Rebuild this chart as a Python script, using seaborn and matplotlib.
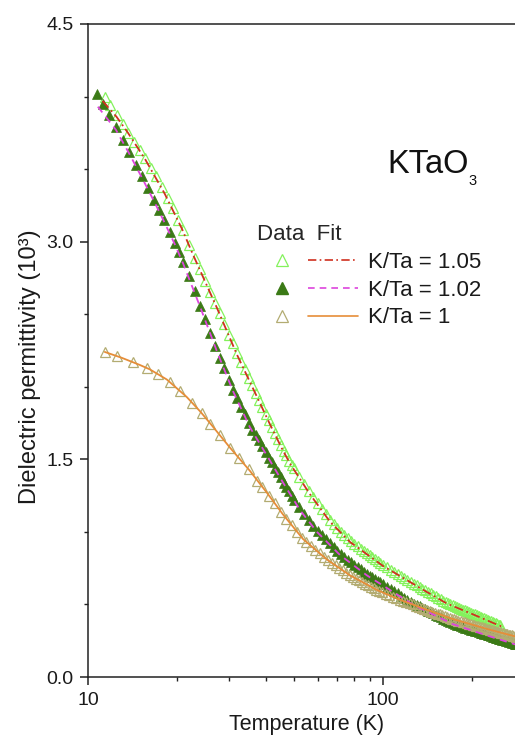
import matplotlib
matplotlib.use("Agg")
import matplotlib.pyplot as plt
import matplotlib.ticker as ticker
import seaborn as sns
from matplotlib.lines import Line2D
from matplotlib.legend_handler import HandlerTuple

# K/Ta = 1.05 (open light-green triangles)
t_105 = [11.4, 11.9, 12.5, 13.1, 13.7, 14.3, 15.0, 15.6, 16.3, 17.0, 17.8, 18.6, 19.4, 20.2, 21.0,
         22, 23, 24, 25, 26, 27, 28, 29, 30, 31, 32, 33, 34, 35, 36, 37, 38, 39, 40, 41,
         42, 43, 44, 45, 46, 47, 48, 49, 50,
         52, 54, 56, 58, 60, 62, 64, 66, 68, 70, 72, 74, 76, 78, 80, 82, 84, 86, 88, 90,
         92, 94, 96, 98, 100,
         103, 106, 109, 112, 115, 118, 121, 124, 127, 130, 133, 136, 139, 142, 145, 148, 151,
         154, 157, 160, 163, 166, 169, 172, 175, 178, 181, 184, 187, 190, 193, 196, 199, 202,
         205, 208, 211, 214, 217, 220, 223, 226, 229, 232, 235, 238, 241, 244, 247, 250]
eps_105 = [4.00, 3.94, 3.87, 3.81, 3.75, 3.69, 3.63, 3.58, 3.51, 3.45, 3.38, 3.30, 3.23, 3.15, 3.08,
           2.98, 2.89, 2.81, 2.73, 2.65, 2.58, 2.51, 2.43, 2.36, 2.30, 2.23, 2.17, 2.12, 2.06, 2.01,
           1.96, 1.91, 1.86, 1.81, 1.77, 1.72, 1.68, 1.64, 1.60, 1.56, 1.53, 1.49, 1.46, 1.44,
           1.38, 1.33, 1.28, 1.24, 1.20, 1.16, 1.12, 1.08, 1.055, 1.03, 1.00, 0.98, 0.955, 0.934,
           0.917, 0.901, 0.885, 0.87, 0.854, 0.84, 0.825, 0.811, 0.797, 0.783, 0.77,
           0.755, 0.739, 0.725, 0.71, 0.697, 0.683, 0.67, 0.657, 0.644, 0.632, 0.62, 0.608, 0.597,
           0.586, 0.576, 0.565, 0.555, 0.545, 0.535, 0.526, 0.516, 0.508, 0.501, 0.495, 0.489,
           0.482, 0.476, 0.47, 0.464, 0.459, 0.453, 0.447, 0.442, 0.436, 0.431, 0.425, 0.42,
           0.415, 0.409, 0.404, 0.399, 0.394, 0.389, 0.384, 0.379, 0.374, 0.37, 0.365, 0.36, 0.356]

# K/Ta = 1.02 (filled dark-green triangles)
t_102 = [10.73, 11.24, 11.8, 12.44, 13.1, 13.77, 14.5, 15.24, 16.0, 16.73, 17.4, 18.09, 18.9,
         19.71, 20.4, 21.0,
         22, 23, 24, 25, 26, 27, 28, 29, 30, 31, 32, 33, 34, 35, 36, 37, 38, 39, 40, 41,
         42, 43, 44, 45, 46, 47, 48, 49, 50,
         52, 54, 56, 58, 60, 62, 64, 66, 68, 70, 72, 74, 76, 78, 80, 82, 84, 86, 88, 90,
         92, 94, 96, 98, 100,
         103, 106, 109, 112, 115, 118, 121, 124, 127, 130, 133, 136, 139, 142, 145, 148, 151,
         154, 157, 160, 163, 166, 169, 172, 175, 178, 181, 184, 187, 190, 193, 196, 199, 202,
         205, 208, 211, 214, 217, 220, 223, 226, 229, 232, 235, 238, 241, 244, 247, 250, 253,
         256, 259, 262, 265, 268, 271, 274, 277, 280, 283]
eps_102 = [4.02, 3.95, 3.87, 3.79, 3.70, 3.62, 3.53, 3.45, 3.37, 3.29, 3.22, 3.15, 3.07, 2.99,
           2.93, 2.86,
           2.76, 2.66, 2.56, 2.47, 2.37, 2.28, 2.20, 2.13, 2.05, 1.98, 1.92, 1.86, 1.81, 1.75,
           1.705, 1.665, 1.63, 1.59, 1.55, 1.51, 1.48, 1.44, 1.41, 1.38, 1.34, 1.31, 1.28, 1.25,
           1.22,
           1.17, 1.12, 1.08, 1.04, 1.005, 0.977, 0.948, 0.921, 0.895, 0.869, 0.845, 0.827, 0.809,
           0.792, 0.775, 0.759, 0.743, 0.727, 0.712, 0.699, 0.687, 0.675, 0.663, 0.652, 0.64,
           0.623, 0.607, 0.592, 0.576, 0.561, 0.547, 0.533, 0.519, 0.506, 0.496, 0.486, 0.476,
           0.466, 0.456, 0.447, 0.438, 0.429, 0.420, 0.411, 0.403, 0.394, 0.386, 0.378, 0.37,
           0.365, 0.36, 0.355, 0.35, 0.346, 0.341, 0.336, 0.332, 0.327, 0.323, 0.318, 0.314,
           0.31, 0.306, 0.302, 0.298, 0.294, 0.29, 0.286, 0.283, 0.279, 0.275, 0.272, 0.268,
           0.265, 0.262, 0.258, 0.255, 0.252, 0.249, 0.245, 0.242, 0.239, 0.236, 0.233, 0.23,
           0.227]

# K/Ta = 1 (open khaki triangles)
t_100 = [11.4, 12.5, 14.2, 15.9, 17.3, 19.0, 20.5, 22.5, 24.3, 26.0, 28.0, 30.3, 32.5, 35.0, 37.5,
         39, 41, 43, 45, 47, 49, 51, 53, 55, 57, 59, 61, 63, 65, 67, 69, 71, 73, 75, 77, 79, 81,
         83, 85, 87, 89, 91, 93, 95, 97, 99,
         102, 105, 108, 111, 114, 117, 120, 123, 126, 129, 132, 135, 138, 141, 144, 147, 150,
         153, 156, 159, 162, 165, 168, 171, 174, 177, 180, 183, 186, 189, 192, 195, 198, 201,
         204, 207, 210, 213, 216, 219, 222, 225, 228, 231, 234, 237, 240, 243, 246, 249, 252,
         255, 258, 261, 264, 267, 270, 273, 276, 279, 282]
eps_100 = [2.24, 2.21, 2.17, 2.127, 2.085, 2.03, 1.97, 1.89, 1.817, 1.746, 1.665, 1.58, 1.508, 1.43,
           1.354,
           1.31, 1.25, 1.20, 1.14, 1.09, 1.05, 1.00, 0.96, 0.931, 0.904, 0.877, 0.852, 0.828, 0.805,
           0.787, 0.769, 0.752, 0.735, 0.718, 0.702, 0.69, 0.678, 0.666, 0.655, 0.644, 0.633,
           0.622, 0.612, 0.602, 0.593, 0.586,
           0.575, 0.564, 0.553, 0.543, 0.533, 0.524, 0.515, 0.507, 0.50, 0.492, 0.485, 0.477,
           0.47, 0.463, 0.456, 0.45, 0.443, 0.437, 0.431, 0.425, 0.419, 0.413, 0.407, 0.402,
           0.397, 0.393, 0.388, 0.384, 0.38, 0.376, 0.372, 0.368, 0.364, 0.36, 0.356, 0.353,
           0.349, 0.345, 0.342, 0.338, 0.335, 0.331, 0.328, 0.325, 0.322, 0.319, 0.316, 0.313,
           0.31, 0.307, 0.305, 0.302, 0.299, 0.296, 0.294, 0.291, 0.288, 0.286, 0.283, 0.281,
           0.278]

# fit curves
fit_t_105 = [11.2, 12.5, 13.66, 15.6, 18.2, 20.8, 22.7, 27.4, 32.0, 37.4, 41.4, 45.4, 48.4, 56.5,
             66.1, 77.3, 100, 116.5, 141, 165, 200, 254]
fit_105 = [3.97, 3.86, 3.75, 3.57, 3.33, 3.09, 2.91, 2.54, 2.22, 1.93, 1.74, 1.575, 1.47, 1.26,
           1.07, 0.93, 0.765, 0.685, 0.585, 0.505, 0.435, 0.345]
fit_t_102 = [10.8, 12.44, 13.77, 15.24, 16.73, 18.09, 19.71, 21, 24, 27.4, 31, 35.4, 41.4, 45.8,
             52.3, 59.7, 71.5, 88.2, 100, 126, 172, 226, 280, 300]
fit_102 = [3.93, 3.77, 3.61, 3.44, 3.28, 3.14, 2.98, 2.85, 2.55, 2.24, 1.97, 1.72, 1.49, 1.34,
           1.15, 1.00, 0.84, 0.70, 0.63, 0.50, 0.365, 0.285, 0.225, 0.21]
fit_t_100 = [11.4, 13, 15, 16.2, 18.5, 21.6, 24, 25.9, 30.3, 35.4, 38.3, 40.4, 45.8, 53.6, 64.5,
             77.3, 95.3, 116.5, 144.6, 172, 226, 280, 300]
fit_100 = [2.24, 2.20, 2.15, 2.12, 2.05, 1.93, 1.83, 1.75, 1.58, 1.42, 1.33, 1.27, 1.12, 0.95, 0.81,
           0.70, 0.60, 0.525, 0.455, 0.40, 0.33, 0.28, 0.27]

labels = ["K/Ta = 1.05", "K/Ta = 1.02", "K/Ta = 1"]

c_light = "#84f25c"
c_dark = "#3b7a16"
c_khaki = "#b3ac72"
c_red = "#d0301f"
c_mag = "#dd44dd"
c_orange = "#e68d38"

sns.set_style("ticks")
plt.rcParams['font.family'] = ['Liberation Sans', 'DejaVu Sans']
plt.rcParams['axes.edgecolor'] = '#222222'
plt.rcParams['axes.linewidth'] = 1.1

fig = plt.figure(figsize=(5.15, 7.35), dpi=100)
ax = fig.add_axes([88/515, 58/735, 427/515, 653/735])

ms = 7.2
sns.lineplot(x=t_105, y=eps_105, ax=ax, sort=False, errorbar=None, linestyle='', marker='^',
             markersize=ms, markerfacecolor='none', markeredgecolor=c_light, markeredgewidth=0.9,
             color=c_light)
sns.lineplot(x=t_102, y=eps_102, ax=ax, sort=False, errorbar=None, linestyle='', marker='^',
             markersize=ms - 0.6, markerfacecolor=c_dark, markeredgecolor=c_dark,
             markeredgewidth=0.5, color=c_dark)
sns.lineplot(x=t_100, y=eps_100, ax=ax, sort=False, errorbar=None, linestyle='', marker='^',
             markersize=ms, markerfacecolor='none', markeredgecolor=c_khaki, markeredgewidth=0.9,
             color=c_khaki)

sns.lineplot(x=fit_t_105, y=fit_105, ax=ax, sort=False, errorbar=None, color=c_red,
             linestyle=(0, (5, 2, 1, 2)), linewidth=1.3)
sns.lineplot(x=fit_t_102, y=fit_102, ax=ax, sort=False, errorbar=None, color=c_mag,
             linestyle=(0, (4, 3)), linewidth=1.3)
sns.lineplot(x=fit_t_100, y=fit_100, ax=ax, sort=False, errorbar=None, color=c_orange,
             linestyle='-', linewidth=1.3)

ax.set_xscale('log')
ax.set_xlim(10, 280)
ax.set_ylim(0, 4.5)
ax.xaxis.set_major_locator(ticker.FixedLocator([10, 100]))
ax.xaxis.set_major_formatter(ticker.FixedFormatter(["10", "100"]))
ax.xaxis.set_minor_locator(ticker.LogLocator(base=10, subs=range(2, 10)))
ax.xaxis.set_minor_formatter(ticker.NullFormatter())
ax.yaxis.set_major_locator(ticker.FixedLocator([0, 1.5, 3.0, 4.5]))
ax.yaxis.set_major_formatter(ticker.FormatStrFormatter('%.1f'))
ax.yaxis.set_minor_locator(ticker.MultipleLocator(0.5))
ax.tick_params(which='major', direction='out', length=6, width=1.1, labelsize=14, pad=4.5,
               color='#222222', labelcolor='#1a1a1a')
ax.tick_params(which='minor', direction='out', length=3, width=1.0, color='#222222')
ax.spines['right'].set_visible(False)

ax.set_xlabel("Temperature (K)", fontsize=15.5, color='#1a1a1a')
ax.xaxis.set_label_coords(0.513, -0.056)
ax.set_ylabel("Dielectric permittivity (10³)", fontsize=17, color='#1a1a1a')
ax.yaxis.set_label_coords(-0.110, 0.475)

t = ax.text(0.70, 0.772, "KTaO", transform=ax.transAxes, fontsize=23.5, va='baseline',
            color='#111111')
ax.annotate("3", xy=(1, 0), xycoords=t, xytext=(0, 4.5), textcoords='offset points',
            fontsize=10.5, va='top', ha='left', color='#111111')

handles = [
    (Line2D([], [], marker='^', ls='', mfc='none', mec=c_light, mew=0.9, ms=8),
     Line2D([], [], color=c_red, ls=(0, (5, 2, 1, 2)), lw=1.2)),
    (Line2D([], [], marker='^', ls='', mfc=c_dark, mec=c_dark, ms=8),
     Line2D([], [], color=c_mag, ls=(0, (4, 3)), lw=1.2)),
    (Line2D([], [], marker='^', ls='', mfc='none', mec=c_khaki, mew=0.9, ms=8),
     Line2D([], [], color=c_orange, ls='-', lw=1.2)),
]
leg = ax.legend(handles, labels, handler_map={tuple: HandlerTuple(ndivide=2, pad=0.05)},
                title="Data  Fit", title_fontsize=16, fontsize=16, loc='upper left',
                bbox_to_anchor=(0.396, 0.693), frameon=False, borderpad=0, borderaxespad=0,
                handlelength=4.55, handletextpad=0.45, labelspacing=0.3, alignment='left')
for txt in leg.get_texts():
    txt.set_color('#1a1a1a')

fig.savefig("out.png", dpi=100)
